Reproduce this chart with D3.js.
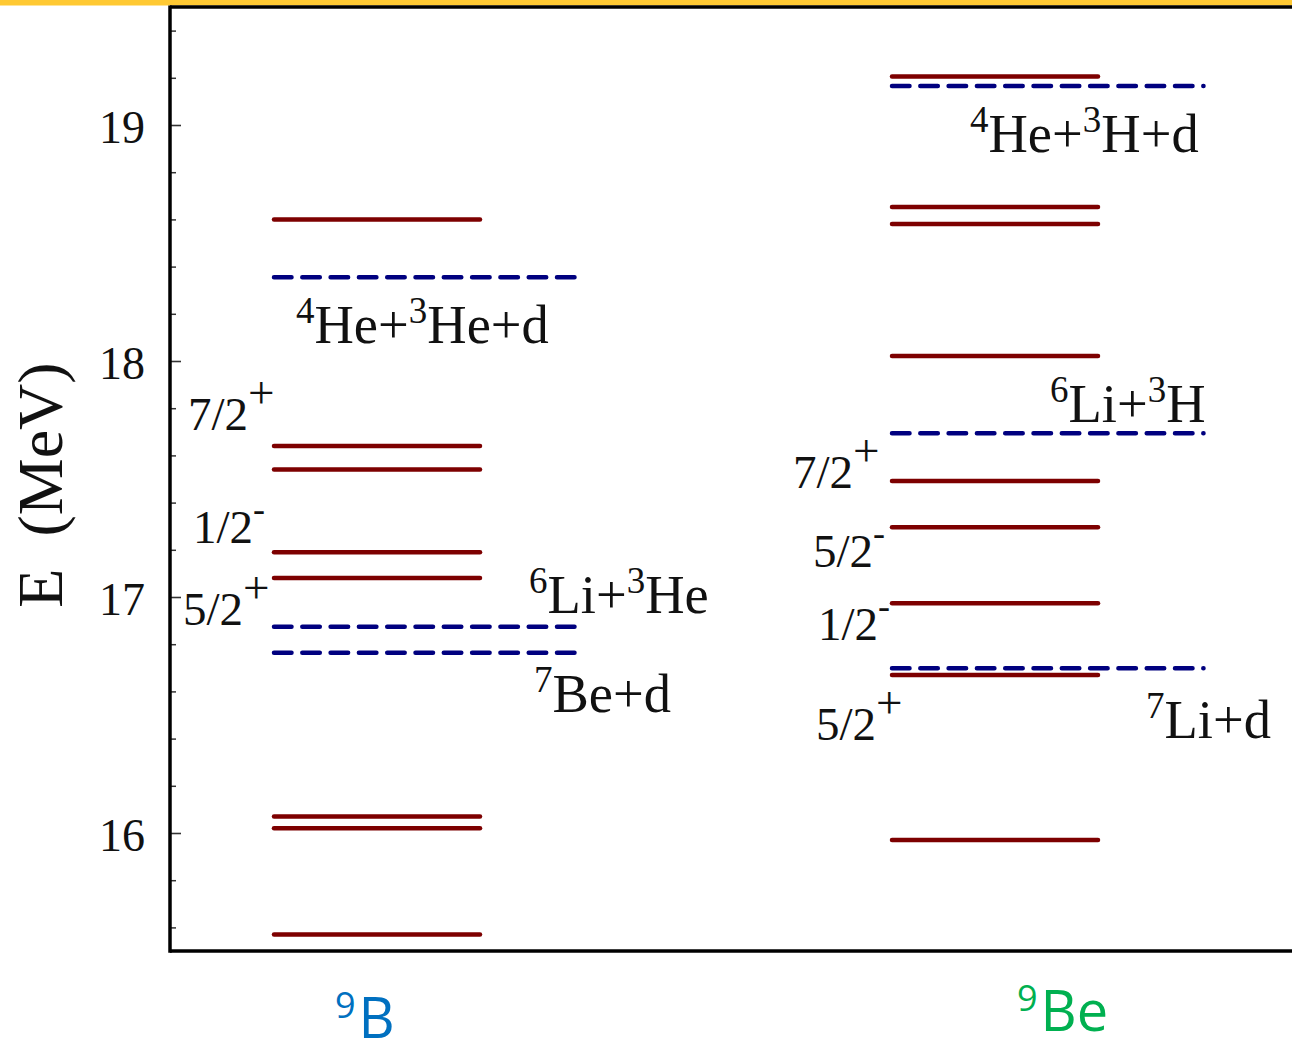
<!DOCTYPE html>
<html><head><meta charset="utf-8">
<script src="https://cdn.jsdelivr.net/npm/d3@7"></script>
<style>
html,body{margin:0;padding:0;background:#fff;}
svg{display:block;}
</style></head><body>
<svg id="chart" width="1292" height="1046"></svg>
<script>
// Excitation energies (MeV) of the A = 9 mirror pair 9B / 9Be
const nuclei = ["9B", "9Be"];
const levels9B = [18.60, 17.64, 17.54, 17.19, 17.08, 16.07, 16.02, 15.57];
const thresholds9B = [18.355, 16.874, 16.764];
const levels9Be = [19.205, 18.653, 18.581, 18.021, 17.492, 17.296, 16.973, 16.669, 15.970];
const thresholds9Be = [19.165, 17.694, 16.698];

// Axis ticks (MeV)
const majorTicks = [16, 17, 18, 19];
const minorTicks = [15.6, 15.8, 16.2, 16.4, 16.6, 16.8, 17.2, 17.4, 17.6, 17.8,
                    18.2, 18.4, 18.6, 18.8, 19.2, 19.4];

// Breakup channels and spin-parity labels ("^" marks a superscript character)
const channels9B = ["^4He+^3He+d", "^6Li+^3He", "^7Be+d"];
const channels9Be = ["^4He+^3H+d", "^6Li+^3H", "^7Li+d"];
const spins9B = ["7/2^+", "1/2^-", "5/2^+"];
const spins9Be = ["7/2^+", "5/2^-", "1/2^-", "5/2^+"];

// ---- layout ----
const W = 1292, H = 1046;
const plotLeft = 170, plotRight = 1292, plotTop = 7, plotBottom = 951;
const serif = "'Times New Roman', 'Liberation Serif', serif";
const sans = "'Open Sans', 'Noto Sans', sans-serif";

const svg = d3.select("#chart");
const y = d3.scaleLinear().domain([15.5, 19.5]).range([plotBottom, plotTop]);
// column start of each nucleus
const x = d3.scalePoint().domain(nuclei).range([272, 890]);

const levelLen = 210, thrLen = {"9B": 308, "9Be": 315.5};

// top accent band
svg.append("rect").attr("x", 0).attr("y", 0).attr("width", W).attr("height", 5.5)
  .attr("fill", "#FFC933");

// axes
const gMinor = svg.append("g").attr("transform", `translate(${plotLeft},0)`)
  .call(d3.axisLeft(y).tickValues(minorTicks).tickSize(-6).tickSizeOuter(0).tickFormat(""));
gMinor.select(".domain").remove();
gMinor.selectAll(".tick line").attr("stroke", "#333").attr("stroke-width", 1.5);

const gMajor = svg.append("g").attr("transform", `translate(${plotLeft},0)`)
  .call(d3.axisLeft(y).tickValues(majorTicks).tickSize(-11).tickSizeOuter(0)
    .tickPadding(25).tickFormat(d3.format("d")));
gMajor.select(".domain").remove();
gMajor.selectAll(".tick line").attr("stroke", "#333").attr("stroke-width", 1.6);
gMajor.selectAll(".tick text")
  .attr("font-family", serif).attr("font-size", 46).attr("fill", "#111")
  .attr("dy", "0.37em");

// frame
const frame = svg.append("g").attr("stroke", "#000").attr("stroke-width", 3.5).attr("fill", "none");
frame.append("line").attr("x1", plotLeft).attr("x2", plotLeft).attr("y1", plotTop - 1.5).attr("y2", plotBottom + 1.7);
frame.append("line").attr("x1", plotLeft).attr("x2", plotRight).attr("y1", plotBottom).attr("y2", plotBottom);
frame.append("line").attr("x1", plotLeft).attr("x2", plotRight).attr("y1", plotTop).attr("y2", plotTop);

// axis title
svg.append("text")
  .attr("transform", `translate(62,${(plotTop + plotBottom) / 2 + 6}) rotate(-90)`)
  .attr("text-anchor", "middle")
  .attr("font-family", serif).attr("font-size", 64).attr("fill", "#111")
  .attr("xml:space", "preserve")
  .text("E  (MeV)");

// level lines
const series = [
  {nucleus: "9B", levels: levels9B, thresholds: thresholds9B},
  {nucleus: "9Be", levels: levels9Be, thresholds: thresholds9Be}
];

series.forEach(s => {
  const x0 = x(s.nucleus);
  svg.append("g").selectAll("line").data(s.thresholds).join("line")
    .attr("x1", x0 + 2).attr("x2", x0 + thrLen[s.nucleus] - 2)
    .attr("y1", d => y(d)).attr("y2", d => y(d))
    .attr("stroke", "#00007f").attr("stroke-width", 4.5)
    .attr("stroke-linecap", "round").attr("stroke-dasharray", "17.5,10.8");
  svg.append("g").selectAll("line").data(s.levels).join("line")
    .attr("x1", x0 + 2).attr("x2", x0 + levelLen - 2)
    .attr("y1", d => y(d)).attr("y2", d => y(d))
    .attr("stroke", "#7d0000").attr("stroke-width", 4.5)
    .attr("stroke-linecap", "round");
});

// rich text with superscripts
function rich(g, str, size, supSize, rise) {
  const t = g.append("text").attr("font-family", serif).attr("font-size", size).attr("fill", "#111");
  let raised = false;
  for (let i = 0; i < str.length; i++) {
    if (str[i] === "^") {
      const ts = t.append("tspan").attr("font-size", supSize).text(str[i + 1]);
      if (!raised) ts.attr("dy", -rise);
      raised = true;
      i++;
    } else {
      let j = i;
      while (j < str.length && str[j] !== "^") j++;
      const ts = t.append("tspan").text(str.slice(i, j));
      if (raised) ts.attr("dy", rise);
      raised = false;
      i = j - 1;
    }
  }
  return t;
}

// channel labels: [label, nucleus, baseline energy, x offset from column]
const channelPlaces = [
  [channels9B[0], "9B", 18.076, 24],
  [channels9B[1], "9B", 16.932, 257],
  [channels9B[2], "9B", 16.513, 262],
  [channels9Be[0], "9Be", 18.886, 80],
  [channels9Be[1], "9Be", 17.742, 160],
  [channels9Be[2], "9Be", 16.403, 256]
];
channelPlaces.forEach(([lab, n, e, dx]) => {
  rich(svg.append("g").attr("transform", `translate(${x(n) + dx},${y(e)})`), lab, 54.5, 37, 20);
});

// spin-parity labels
const spinPlaces = [
  [spins9B[0], "9B", 17.708, -84],
  [spins9B[1], "9B", 17.229, -79],
  [spins9B[2], "9B", 16.881, -89],
  [spins9Be[0], "9Be", 17.462, -97],
  [spins9Be[1], "9Be", 17.127, -77],
  [spins9Be[2], "9Be", 16.818, -72],
  [spins9Be[3], "9Be", 16.394, -74]
];
spinPlaces.forEach(([lab, n, e, dx]) => {
  const g = svg.append("g").attr("transform", `translate(${x(n) + dx},${y(e)})`);
  const sign = lab.slice(-1);
  if (sign === "+") rich(g, lab, 47, 47, 22);
  else rich(g, lab, 47, 36, 22);
});

// nucleus names under the axis
const nucleusNames = [
  {n: "9B", sup: "9", base: "B", color: "#0070C0", dx: 63, by: 1038},
  {n: "9Be", sup: "9", base: "Be", color: "#00B050", dx: 127, by: 1031}
];
nucleusNames.forEach(d => {
  const t = svg.append("text")
    .attr("x", x(d.n) + d.dx).attr("y", d.by)
    .attr("font-family", sans).attr("font-size", 56).attr("fill", d.color);
  t.append("tspan").attr("font-size", 36).attr("dy", -20).text(d.sup);
  t.append("tspan").attr("dy", 20).attr("dx", 3).text(d.base);
});
</script>
</body></html>
